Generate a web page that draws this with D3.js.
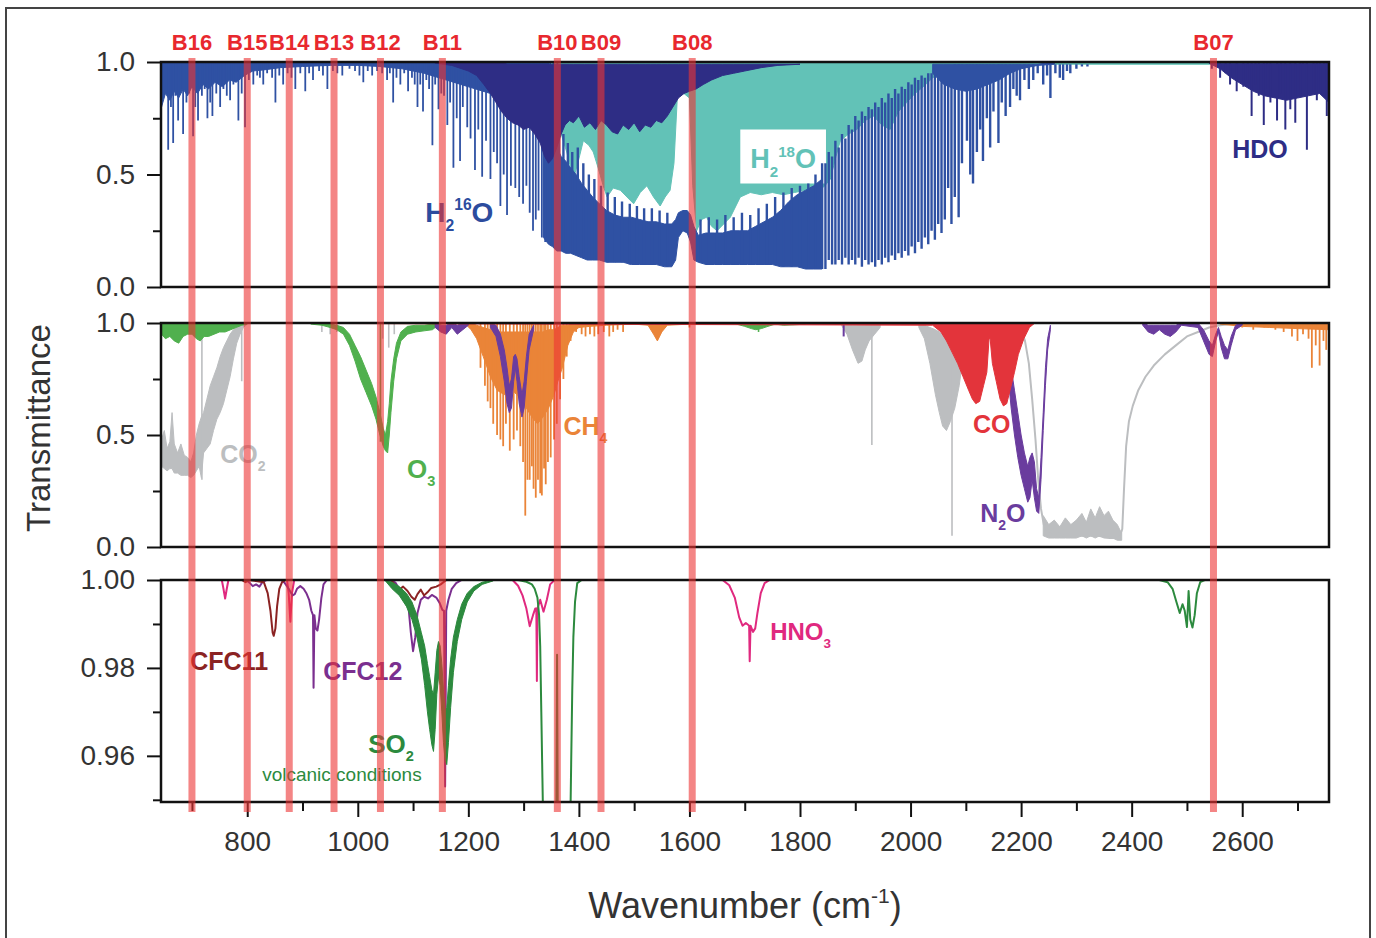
<!DOCTYPE html>
<html>
<head>
<meta charset="utf-8">
<title>Transmittance spectra and bands</title>
<script src="https://d3js.org/d3.v7.min.js"></script>
<style>
  body { margin: 0; background: #fff; }
  svg { display: block; }
  text { font-family: "Liberation Sans", Arial, sans-serif; }
</style>
</head>
<body>
<svg id="chart" width="1376" height="938"></svg>
<script>
// ---------- data (wavenumber cm-1, transmittance) ----------
var bandNames = ['B16','B15','B14','B13','B12','B11','B10','B09','B08','B07'];
var bandWn    = [700, 800, 876, 957, 1041, 1153, 1361, 1440, 1605, 2548];

var xMajor = [800,1000,1200,1400,1600,1800,2000,2200,2400,2600];
var xMinor = [700,900,1100,1300,1500,1700,1900,2100,2300,2500,2700];

// panel 1 : water isotopologues
// band = [wn, upper, lower] ; lines = [wn, min] ; segs = [wn, top, bottom]
var h2o18Band = [[645,1,.99],[1000,1,.99],[1300,1,.985],[1350,1,.96],[1362,1,.80],[1368,1,.68],[1378,1,.60],[1390,1,.48],[1398,1,.55],[1408,1,.65],[1418,1,.63],[1426,1,.60],[1436,1,.52],[1444,1,.45],[1451,1,.40],[1462,1,.44],[1475,1,.43],[1487,1,.40],[1499,1,.37],[1511,1,.42],[1523,1,.45],[1535,1,.40],[1547,1,.36],[1556,1,.40],[1565,1,.43],[1572,1,.55],[1578,1,.84],[1590,1,.86],[1600,1,.84],[1606,1,.45],[1613,1,.25],[1622,1,.30],[1631,1,.31],[1640,1,.27],[1650,1,.25],[1662,1,.28],[1674,1,.31],[1684,1,.36],[1692,1,.40],[1710,1,.42],[1730,1,.41],[1750,1,.42],[1770,1,.41],[1790,1,.42],[1810,1,.43],[1830,1,.42],[1845,1,.45],[1855,1,.48],[1865,1,.58],[1873,1,.65],[1888,1,.68],[1903,1,.70],[1918,1,.74],[1933,1,.76],[1948,1,.72],[1963,1,.70],[1978,1,.78],[1993,1,.82],[2008,1,.86],[2023,1,.89],[2040,1,.93],[2054,1,.95],[2072,1,.96],[2100,1,.975],[2200,1,.99],[2757,1,.99]];

var h2o16TopBand = [[645,1,.80],[652,1,.86],[660,1,.83],[668,1,.87],[676,1,.84],[684,1,.88],[692,1,.85],[700,1,.89],[710,1,.86],[720,1,.90],[730,1,.88],[742,1,.91],[755,1,.89],[768,1,.92],[780,1,.91],[795,1,.94],[810,1,.96],[830,1,.965],[860,1,.975],[900,1,.98],[950,1,.985],[1000,1,.985],[1040,1,.98],[1080,1,.97],[1120,1,.95],[1160,1,.92],[1200,1,.89],[1240,1,.86],[1280,1,.82],[1320,1,.78],[1345,1,.72]];

var h2o16Lines = [[657,.61],[662,.80],[666,.64],[670,.85],[675,.74],[680,.88],[684,.68],[690,.82],[695,.86],[702,.67],[706,.80],[711,.74],[718,.85],[723,.88],[728,.75],[733,.82],[737,.76],[744,.86],[751,.80],[757,.88],[763,.85],[769,.83],[775,.90],[784,.74],[790,.86],[796,.71],[803,.92],[811,.90],[818,.94],[823,.93],[829,.90],[836,.95],[845,.93],[851,.82],[858,.94],[865,.90],[873,.95],[880,.93],[887,.88],[896,.95],[905,.87],[912,.95],[919,.92],[930,.96],[937,.94],[945,.88],[955,.96],[963,.95],[972,.94],[985,.97],[995,.96],[1003,.94],[1010,.91],[1018,.96],[1026,.94],[1035,.96],[1044,.95],[1053,.92],[1058,.95],[1064,.82],[1070,.93],[1077,.90],[1084,.95],[1091,.87],[1098,.93],[1103,.90],[1108,.80],[1113,.90],[1118,.78],[1124,.92],[1129,.88],[1135,.63],[1140,.90],[1146,.79],[1151,.86],[1156,.85],[1162,.72],[1167,.82],[1173,.53],[1179,.75],[1185,.56],[1190,.80],[1198,.71],[1204,.66],[1212,.52],[1218,.70],[1225,.49],[1232,.65],[1240,.48],[1246,.60],[1252,.55],[1258,.36],[1264,.50],[1270,.32],[1277,.45],[1285,.44],[1292,.40],[1299,.37],[1305,.45],[1311,.33],[1317,.25],[1322,.30],[1327,.34],[1333,.22],[1339,.20],[1344,.28],[1348,.30],[1354,.19],[1361,.17]];

var h2o16Band = [[1336,.78,.22],[1345,.70,.19],[1352,.66,.18],[1360,.62,.16],[1368,.58,.16],[1376,.56,.15],[1385,.53,.15],[1395,.50,.14],[1405,.46,.13],[1415,.43,.12],[1425,.40,.12],[1437,.37,.12],[1450,.34,.11],[1465,.32,.11],[1480,.31,.11],[1495,.31,.10],[1510,.30,.10],[1525,.29,.10],[1540,.29,.10],[1555,.28,.09],[1568,.28,.09],[1575,.30,.12],[1580,.33,.22],[1588,.34,.25],[1596,.34,.24],[1602,.32,.20],[1608,.27,.12],[1616,.23,.11],[1630,.24,.10],[1645,.24,.10],[1660,.24,.10],[1675,.25,.10],[1690,.25,.10],[1705,.25,.10],[1720,.27,.10],[1735,.29,.10],[1750,.31,.10],[1765,.34,.09],[1780,.38,.09],[1795,.41,.09],[1810,.43,.08],[1825,.45,.08],[1840,.48,.08]];

var h2o16Segs = [[1340,.95,.22],[1348,.80,.20],[1356,.75,.18],[1364,.70,.16],[1372,.68,.16],[1380,.64,.15],[1388,.60,.15],[1398,.62,.14],[1408,.55,.13],[1418,.50,.12],[1428,.48,.12],[1440,.45,.12],[1452,.42,.11],[1465,.40,.11],[1478,.38,.11],[1492,.37,.10],[1505,.36,.10],[1518,.35,.10],[1532,.35,.10],[1546,.34,.10],[1560,.33,.09],[1620,.30,.11],[1635,.31,.10],[1650,.30,.10],[1665,.32,.10],[1680,.31,.10],[1695,.33,.10],[1710,.32,.10],[1725,.35,.10],[1740,.37,.10],[1755,.40,.10],[1770,.42,.09],[1785,.44,.09],[1800,.45,.09],[1815,.46,.08],[1828,.50,.08],[1840,.55,.08],
  [1846,.55,.08],[1852,.60,.12],[1858,.58,.10],[1864,.65,.10],[1870,.62,.12],[1876,.68,.10],[1882,.66,.13],[1888,.72,.10],[1894,.70,.12],[1900,.76,.10],[1906,.74,.13],[1912,.78,.09],[1918,.76,.12],[1924,.80,.10],[1930,.79,.11],[1936,.82,.09],[1942,.80,.12],[1948,.84,.10],[1954,.82,.13],[1960,.86,.11],[1966,.84,.14],[1972,.88,.12],[1978,.86,.15],[1984,.89,.13],[1990,.88,.16],[1996,.91,.14],[2002,.90,.18],[2008,.93,.15],[2014,.92,.20],[2020,.94,.17],[2026,.93,.22],[2032,.95,.19],[2038,.95,.25],[2044,.96,.21],[2050,.97,.28],[2056,.97,.24],[2062,.98,.30],[2068,.98,.44],[2074,.98,.28],[2080,.99,.40],[2087,.99,.31],[2093,.99,.55],[2102,.99,.65],[2108,.99,.50],[2113,.99,.46],[2120,.99,.60],[2126,.99,.70],[2131,.99,.56],[2138,.99,.75],[2144,.99,.62],[2150,.99,.78],[2159,.99,.64],[2165,.99,.82],[2172,.99,.76],[2180,.99,.80],[2186,.99,.88],[2192,.99,.85],[2198,.99,.83],[2206,.99,.92],[2214,.99,.88],[2222,.99,.92],[2230,.99,.95],[2240,.99,.90],[2247,.99,.94],[2253,.99,.84],[2262,.99,.95],[2270,.99,.93],[2276,.99,.92],[2283,.99,.96],[2289,.99,.95],[2300,.99,.97],[2310,.99,.98],[2320,.99,.98]];

var h2o16RBand = [[2040,.99,.95],[2060,.99,.90],[2080,.99,.88],[2100,.99,.87],[2120,.99,.88],[2140,.99,.90],[2160,.99,.92],[2180,.99,.95],[2200,.99,.97],[2230,.99,.985],[2260,1,.99]];

var hdoBand = [[1140,1,.995],[1170,1,.985],[1200,1,.96],[1215,1,.94],[1228,1,.90],[1240,1,.86],[1250,1,.82],[1260,1,.78],[1270,.99,.75],[1280,.99,.73],[1290,.99,.72],[1300,.99,.70],[1310,.99,.71],[1320,.99,.68],[1330,.99,.64],[1338,.99,.58],[1345,.99,.55],[1352,.99,.57],[1360,.99,.62],[1368,.99,.68],[1375,.99,.72],[1383,.99,.74],[1390,.99,.73],[1400,.99,.76],[1410,.99,.71],[1420,.99,.73],[1430,.99,.70],[1440,.99,.74],[1450,.99,.72],[1460,.99,.69],[1470,.99,.68],[1480,.99,.72],[1490,.99,.70],[1500,.99,.73],[1510,.99,.69],[1520,.99,.72],[1530,.99,.71],[1540,.99,.74],[1550,.99,.73],[1560,.99,.76],[1570,.99,.80],[1580,.99,.84],[1590,.99,.86],[1600,.99,.87],[1612,.99,.88],[1625,.99,.90],[1640,.99,.92],[1660,.99,.94],[1680,.99,.95],[1700,.99,.96],[1730,.99,.975],[1760,.99,.985],[1800,.99,.99]];
var hdoBand2 = [[2540,1,.995],[2560,.995,.97],[2580,.995,.93],[2600,.995,.90],[2620,.995,.87],[2640,.995,.85],[2660,.995,.84],[2680,.995,.83],[2700,.995,.84],[2720,.995,.85],[2740,.995,.86],[2757,.995,.82]];
var hdoLines = [[2545,.97],[2560,.93],[2570,.95],[2578,.90],[2590,.87],[2602,.89],[2610,.92],[2617,.76],[2624,.90],[2630,.85],[2639,.72],[2645,.88],[2651,.82],[2663,.74],[2670,.86],[2678,.70],[2687,.79],[2696,.73],[2705,.85],[2710,.88],[2717,.61],[2729,.87],[2735,.83],[2741,.86],[2748,.85],[2753,.76]];

// panel 2 : trace gases
var co2Bands = [
  [[645,.48,.36],[650,.52,.35],[655,.44,.34],[660,.47,.35],[664,.60,.35],[668,.46,.33],[674,.42,.33],[680,.46,.32],[686,.41,.32],[692,.40,.32],[698,.38,.31],[703,.42,.32],[708,.50,.34],[713,.55,.36],[717,.58,.31],[721,.60,.42],[727,.66,.44],[733,.72,.46],[739,.76,.52],[745,.80,.57],[751,.85,.60],[757,.89,.64],[763,.92,.70],[769,.95,.76],[775,.97,.84],[781,.98,.91],[787,.99,.95],[793,.995,.98],[800,1,.995]],
  [[1875,1,.99],[1885,1,.95],[1895,.99,.88],[1905,.99,.82],[1912,.99,.83],[1918,.99,.88],[1925,1,.92],[1935,1,.95],[1945,1,.98]],
  [[2015,1,.98],[2025,.99,.93],[2035,.98,.82],[2045,.97,.68],[2052,.96,.60],[2058,.95,.54],[2065,.95,.52],[2072,.96,.56],[2080,.97,.62],[2088,.98,.72],[2095,.99,.85],[2105,1,.95],[2115,1,.99]],
  [[2240,.14,.05],[2250,.10,.04],[2260,.12,.04],[2270,.09,.04],[2280,.13,.04],[2290,.10,.04],[2300,.12,.04],[2310,.15,.05],[2318,.11,.04],[2326,.17,.05],[2334,.13,.04],[2342,.18,.05],[2350,.14,.04],[2358,.16,.04],[2366,.12,.04],[2374,.10,.03],[2382,.06,.03]]
];
var co2Lines = [[718,.30],[790,.74],[935,.96],[950,.95],[962,.96],[1045,.93],[1056,.89],[1066,.95],[1930,.455],[2075,.05]];
var co2Trace = [[2190,.995],[2200,.97],[2207,.92],[2214,.82],[2220,.66],[2226,.48],[2231,.30],[2236,.17],[2241,.10],[2250,.07],[2265,.06],[2280,.05],[2300,.05],[2320,.05],[2340,.05],[2360,.04],[2378,.04],[2383,.08],[2386,.25],[2390,.45],[2395,.56],[2402,.63],[2412,.70],[2425,.76],[2440,.81],[2460,.86],[2480,.90],[2500,.94],[2520,.96],[2540,.98],[2560,.99],[2580,.995]];

var o3Bands = [
  [[645,1,.95],[652,1,.93],[660,1,.94],[668,1,.92],[676,1,.91],[684,1,.94],[692,1,.95],[700,1,.95],[708,1,.93],[715,1,.92],[722,1,.94],[730,1,.94],[740,1,.95],[750,1,.96],[760,1,.96],[770,1,.97],[780,1,.98],[790,1,.99],[800,1,.995]],
  [[915,1,.995],[935,1,.99],[950,.995,.98],[962,.99,.97],[974,.98,.95],[985,.95,.90],[995,.90,.83],[1005,.85,.75],[1015,.79,.69],[1025,.73,.63],[1033,.67,.57],[1040,.60,.50],[1046,.53,.45],[1050,.50,.43],[1054,.56,.42],[1057,.64,.50],[1060,.74,.60],[1065,.84,.74],[1070,.91,.84],[1078,.96,.92],[1090,.985,.95],[1105,.99,.96],[1120,.99,.965],[1135,.995,.97],[1145,1,.99],[1155,1,1]],
  [[1685,1,.995],[1700,1,.985],[1712,1,.975],[1720,1,.97],[1730,1,.975],[1742,1,.985],[1755,1,.995],[1770,1,.99],[1790,1,.992],[1810,1,.995]]
];
var o3Lines = [[1041,.47],[1725,.96]];

var ch4Bands = [
  [[1195,1,.995],[1205,1,.97],[1215,.99,.93],[1227,.98,.85],[1240,.97,.76],[1252,.96,.70],[1265,.96,.68],[1280,.96,.70],[1295,.96,.66],[1305,.96,.62],[1315,.96,.58],[1325,.96,.55],[1335,.96,.58],[1345,.97,.62],[1355,.97,.68],[1362,.98,.74],[1370,.99,.80],[1380,.99,.90],[1390,1,.96],[1400,1,.98],[1420,1,.985],[1450,1,.99],[1500,1,.995],[1525,1,.99],[1535,1,.95],[1542,1,.92],[1550,1,.96],[1560,1,.99],[1600,1,.995],[1650,1,.998]],
  [[2560,1,.995],[2600,1,.985],[2650,1,.98],[2700,1,.975],[2757,1,.97]]
];
var ch4Lines = [[1222,.80],[1230,.72],[1235,.65],[1240,.62],[1245,.55],[1252,.50],[1258,.48],[1263,.45],[1268,.55],[1275,.43],[1282,.48],[1288,.52],[1294,.45],[1299,.38],[1303,.14],[1307,.30],[1311,.30],[1315,.36],[1318,.26],[1322,.22],[1326,.30],[1330,.24],[1333,.23],[1337,.35],[1340,.28],[1344,.38],[1349,.40],[1355,.48],[1360,.55],[1366,.66],[1372,.75],[1378,.85],[1385,.92],[1395,.96],[1405,.95],[1412,.94],[1420,.95],[1428,.94],[1435,.95],[1445,.96],[1455,.94],[1462,.96],[1470,.97],[1480,.96],[1600,.98],[2600,.98],[2620,.97],[2640,.98],[2660,.97],[2675,.96],[2690,.94],[2700,.92],[2710,.95],[2720,.93],[2726,.80],[2733,.90],[2740,.81],[2747,.92],[2752,.88]];

var n2oBands = [
  [[1140,1,.98],[1150,.99,.96],[1160,.99,.95],[1170,1,.98],[1180,.99,.95],[1190,1,.97],[1200,1,.99]],
  [[1240,1,.98],[1250,.99,.94],[1258,.95,.85],[1265,.88,.74],[1270,.80,.64],[1274,.72,.60],[1278,.75,.62],[1282,.85,.74],[1285,.86,.80],[1288,.84,.74],[1292,.76,.64],[1297,.68,.58],[1301,.74,.62],[1305,.85,.74],[1310,.95,.88],[1318,.99,.97]],
  [[2170,.99,.95],[2176,.90,.78],[2182,.80,.62],[2188,.70,.50],[2194,.60,.40],[2200,.50,.32],[2206,.42,.26],[2212,.36,.20],[2216,.40,.22],[2220,.42,.30],[2224,.38,.22],[2228,.26,.16],[2232,.22,.15],[2236,.40,.30],[2240,.60,.52],[2244,.80,.72],[2248,.93,.88],[2253,.99,.97]],
  [[2420,1,.99],[2430,.99,.96],[2440,.99,.95],[2450,.99,.97],[2460,.99,.95],[2470,.99,.94],[2480,.99,.96],[2490,1,.99],[2520,1,.98],[2530,.97,.92],[2540,.92,.86],[2546,.90,.85],[2552,.95,.92],[2557,.98,.96],[2562,.94,.89],[2568,.90,.84],[2574,.88,.84],[2580,.94,.90],[2588,.99,.97],[2600,1,.99]]
];
var n2oLines = [[1879,.94]];

var coBand = [[645,1,1],[2040,1,.99],[2055,1,.96],[2065,1,.92],[2075,1,.87],[2085,1,.82],[2095,1,.76],[2105,1,.70],[2112,1,.66],[2118,1,.64],[2125,1,.65],[2132,1,.72],[2138,1,.78],[2142,1,.93],[2144,1,.93],[2148,1,.82],[2155,1,.74],[2162,1,.66],[2168,1,.63],[2174,1,.64],[2180,1,.70],[2188,1,.78],[2195,1,.86],[2205,1,.93],[2215,1,.98],[2225,1,1],[2757,1,1]];

// panel 3 : weak absorbers
var cfc11 = [[645,1],[790,1],[797,.9995],[803,1],[830,.9995],[837,.997],[842,.993],[846,.988],[848,.9873],[851,.989],[854,.994],[858,.998],[863,.9995],[870,1],[1060,1],[1068,.9988],[1075,.9978],[1082,.9985],[1090,.9975],[1097,.9962],[1103,.9955],[1108,.9968],[1114,.9978],[1120,.9965],[1126,.9972],[1133,.9982],[1142,.9985],[1150,.999],[1160,1],[2757,1]];
var cfc12 = [[645,1],[798,1],[804,.9994],[810,.9986],[816,.999],[822,.9985],[828,.9996],[835,1],[862,1],[868,.9993],[875,.998],[882,.9965],[886,.9968],[890,.998],[896,.9986],[902,.998],[907,.997],[912,.9955],[916,.993],[919,.992],[920,.9755],[921.5,.992],[924,.989],[927,.9885],[930,.991],[934,.9958],[938,.999],[944,1],[1060,1],[1068,.9994],[1076,.9978],[1082,.996],[1088,.9945],[1092,.9935],[1096,.988],[1100,.9838],[1104,.987],[1108,.9925],[1114,.9955],[1120,.9962],[1127,.9958],[1134,.9966],[1142,.996],[1148,.9948],[1153,.9932],[1156,.993],[1158,.953],[1160,.993],[1164,.9955],[1170,.998],[1178,.9993],[1188,1],[2757,1]];
var hno3 = [[645,1],[754,1],[757,.998],[760,.9958],[763,.998],[766,1],[872,1],[875,.997],[878,.9905],[881,.997],[885,1],[1280,1],[1290,.9987],[1298,.9965],[1305,.9935],[1311,.9895],[1317,.992],[1321,.9935],[1323,.9935],[1324,.977],[1325,.9935],[1330,.9955],[1336,.9928],[1342,.9955],[1348,.999],[1356,1],[1660,1],[1672,.9988],[1682,.996],[1690,.9915],[1696,.9896],[1702,.9902],[1706,.9898],[1708,.9896],[1709,.9815],[1710.5,.9896],[1715,.9882],[1719,.989],[1723,.9925],[1729,.997],[1736,.9993],[1745,1],[2757,1]];
var so2 = [[645,1],[1290,1],[1305,.9996],[1315,.999],[1320,.998],[1325,.996],[1328,.992],[1330,.985],[1332,.97],[1334,.955],[1336,.94],[1359,.94],[1360.5,.983],[1362,.94],[1384,.94],[1386,.958],[1388,.975],[1390,.987],[1393,.995],[1397,.9993],[1405,1],[2450,1],[2465,.9995],[2474,.998],[2481,.995],[2487,.9925],[2492,.9945],[2496,.993],[2500,.9893],[2503,.9975],[2506,.991],[2510,.9892],[2514,.992],[2518,.997],[2524,.9995],[2532,1],[2757,1]];
var so2Band = [[1050,1,.9998],[1062,.9995,.998],[1075,.9985,.9965],[1088,.997,.994],[1098,.995,.991],[1107,.992,.987],[1115,.988,.982],[1121,.985,.976],[1126,.981,.970],[1130,.978,.966],[1134,.975,.9625],[1137,.974,.961],[1140,.979,.966],[1143,.984,.974],[1146,.986,.978],[1149,.985,.976],[1152,.981,.970],[1155,.975,.963],[1158,.970,.959],[1161,.971,.958],[1164,.976,.963],[1168,.982,.971],[1173,.987,.979],[1180,.991,.986],[1188,.9945,.991],[1198,.997,.995],[1210,.9985,.9975],[1225,.9995,.999],[1245,1,.9998]];

// ---------- layout ----------
var FONT = '"Liberation Sans", Arial, sans-serif';
var svg = d3.select('#chart');
svg.append('rect').attr('width', 1376).attr('height', 938).attr('fill', '#fff');

var x = d3.scaleLinear().domain([644, 2757]).range([161, 1329]);

var panels = [
  {top: 62,  bottom: 287, domain: [0, 1], major: [0, .5, 1], minor: [.25, .75], fmt: '.1f'},
  {top: 323, bottom: 547, domain: [0, 1], major: [0, .5, 1], minor: [.25, .75], fmt: '.1f'},
  {top: 580, bottom: 802, domain: [0.9495, 1], major: [.96, .98, 1], minor: [.95, .97, .99], fmt: '.2f'}
];
panels.forEach(function(p) { p.y = d3.scaleLinear().domain(p.domain).range([p.bottom, p.top]); });

var defs = svg.append('defs');
panels.forEach(function(p, i) {
  defs.append('clipPath').attr('id', 'clip' + i).append('rect')
    .attr('x', x.range()[0]).attr('y', p.top - 1)
    .attr('width', x.range()[1] - x.range()[0]).attr('height', p.bottom - p.top + 1);
  p.g = svg.append('g').attr('clip-path', 'url(#clip' + i + ')');
});

function band(g, y, data, color) {
  g.append('path').datum(data)
    .attr('d', d3.area().x(function(d) { return x(d[0]); })
      .y0(function(d) { return y(d[2]); }).y1(function(d) { return y(d[1]); }))
    .attr('fill', color).attr('stroke', color).attr('stroke-width', 1);
}
function dips(g, y, data, color, w) {
  g.selectAll(null).data(data).join('line')
    .attr('x1', function(d) { return x(d[0]); }).attr('x2', function(d) { return x(d[0]); })
    .attr('y1', function(d) { return y(d.length > 2 ? d[1] : 1); })
    .attr('y2', function(d) { return y(d[d.length - 1]); })
    .attr('stroke', color).attr('stroke-width', w);
}
function trace(g, y, data, color, w) {
  g.append('path').datum(data)
    .attr('d', d3.line().x(function(d) { return x(d[0]); }).y(function(d) { return y(d[1]); }))
    .attr('fill', 'none').attr('stroke', color).attr('stroke-width', w)
    .attr('stroke-linejoin', 'round');
}
// label with sub/superscripts, anchored in data coords
function chem(g, y, wn, t, parts, color, size, weight) {
  var txt = g.append('text').attr('x', x(wn)).attr('y', y(t)).attr('fill', color)
    .attr('font-family', FONT).attr('font-size', size).attr('font-weight', weight || 'bold');
  var shift = 0;
  parts.forEach(function(pt) {
    var s = typeof pt === 'string' ? pt : pt[0];
    var kind = typeof pt === 'string' ? null : pt[1];
    var target = kind === 'sub' ? size * 0.32 : kind === 'sup' ? -size * 0.42 : 0;
    var ts = txt.append('tspan').attr('dy', target - shift).text(s);
    if (kind) ts.attr('font-size', size * 0.56);
    shift = target;
  });
}

// ---------- panel 1 ----------
var p1 = panels[0], g1 = p1.g, y1 = p1.y;
var C_BLUE = '#2f51a3', C_NAVY = '#2e2d85', C_CYAN = '#62c2b7';
band(g1, y1, h2o18Band, C_CYAN);
g1.append('rect').attr('x', x(1692)).attr('y', y1(.70))
  .attr('width', x(1847) - x(1692)).attr('height', y1(.46) - y1(.70)).attr('fill', '#fff');
band(g1, y1, h2o16TopBand, C_BLUE);
dips(g1, y1, h2o16Lines, C_BLUE, 1.8);
band(g1, y1, h2o16Band, C_BLUE);
dips(g1, y1, h2o16Segs, C_BLUE, 2.4);
band(g1, y1, h2o16RBand, C_BLUE);
band(g1, y1, hdoBand, C_NAVY);
band(g1, y1, hdoBand2, C_NAVY);
dips(g1, y1, hdoLines, C_NAVY, 2);
chem(svg, y1, 1122, .289, ['H', ['2', 'sub'], ['16', 'sup'], 'O'], '#2c4c9e', 28);
chem(svg, y1, 1710, .529, ['H', ['2', 'sub'], ['18', 'sup'], 'O'], C_CYAN, 27);
chem(svg, y1, 2582, .573, ['HDO'], C_NAVY, 25);

// ---------- panel 2 ----------
var p2 = panels[1], g2 = p2.g, y2 = p2.y;
var C_GRAY = '#bcbec0', C_GREEN = '#50b04e', C_ORANGE = '#ea8438', C_PURPLE = '#6a3c9e', C_RED = '#e3343b';
co2Bands.forEach(function(b) { band(g2, y2, b, C_GRAY); });
dips(g2, y2, co2Lines, C_GRAY, 1.6);
trace(g2, y2, co2Trace, C_GRAY, 2);
o3Bands.forEach(function(b) { band(g2, y2, b, C_GREEN); });
dips(g2, y2, o3Lines, C_GREEN, 1.6);
ch4Bands.forEach(function(b) { band(g2, y2, b, C_ORANGE); });
dips(g2, y2, ch4Lines, C_ORANGE, 1.8);
n2oBands.forEach(function(b) { band(g2, y2, b, C_PURPLE); });
dips(g2, y2, n2oLines, C_PURPLE, 2);
band(g2, y2, coBand, C_RED);
chem(svg, y2, 751, .375, ['CO', ['2', 'sub']], C_GRAY, 25);
chem(svg, y2, 1089, .308, ['O', ['3', 'sub']], C_GREEN, 26);
chem(svg, y2, 1372, .50, ['CH', ['4', 'sub']], C_ORANGE, 25);
chem(svg, y2, 2113, .509, ['CO'], C_RED, 25);
chem(svg, y2, 2126, .112, ['N', ['2', 'sub'], 'O'], C_PURPLE, 25);

// ---------- panel 3 ----------
var p3 = panels[2], g3 = p3.g, y3 = p3.y;
var C_HNO3 = '#e0297f', C_CFC11 = '#8b2323', C_CFC12 = '#7b2f8f', C_SO2 = '#2c8a3e';
trace(g3, y3, hno3, C_HNO3, 2);
trace(g3, y3, cfc12, C_CFC12, 2);
trace(g3, y3, cfc11, C_CFC11, 2);
band(g3, y3, so2Band, C_SO2);
trace(g3, y3, so2, C_SO2, 2);
chem(svg, y3, 697, .97955, ['CFC11'], C_CFC11, 25);
chem(svg, y3, 937.5, .97727, ['CFC12'], C_CFC12, 25);
chem(svg, y3, 1019, .96068, ['SO', ['2', 'sub']], C_SO2, 26);
chem(svg, y3, 827, .95432, ['volcanic conditions'], C_SO2, 19, 'normal');
chem(svg, y3, 1746, .98636, ['HNO', ['3', 'sub']], C_HNO3, 24);

// ---------- frames and axes ----------
function styleAxis(sel) {
  sel.select('.domain').remove();
  sel.attr('font-family', FONT).attr('font-size', 28);
  sel.selectAll('line').attr('stroke', '#111').attr('stroke-width', 2);
  sel.selectAll('text').attr('fill', '#333');
}
panels.forEach(function(p) {
  svg.append('rect').attr('x', x.range()[0]).attr('y', p.top)
    .attr('width', x.range()[1] - x.range()[0]).attr('height', p.bottom - p.top)
    .attr('fill', 'none').attr('stroke', '#111').attr('stroke-width', 2.5);
  svg.append('g').attr('transform', 'translate(' + x.range()[0] + ',0)')
    .call(d3.axisLeft(p.y).tickValues(p.major).tickSize(14).tickPadding(12).tickFormat(d3.format(p.fmt)))
    .call(styleAxis);
  svg.append('g').attr('transform', 'translate(' + x.range()[0] + ',0)')
    .call(d3.axisLeft(p.y).tickValues(p.minor).tickSize(8).tickFormat(''))
    .call(styleAxis);
});
svg.append('g').attr('transform', 'translate(0,' + p3.bottom + ')')
  .call(d3.axisBottom(x).tickValues(xMajor).tickSize(15).tickPadding(14).tickFormat(d3.format('d')))
  .call(styleAxis);
svg.append('g').attr('transform', 'translate(0,' + p3.bottom + ')')
  .call(d3.axisBottom(x).tickValues(xMinor).tickSize(9).tickFormat(''))
  .call(styleAxis);

// instrument bands
svg.append('g').selectAll('rect').data(bandWn).join('rect')
  .attr('x', function(d) { return x(d) - 3.5; }).attr('y', 58)
  .attr('width', 7).attr('height', 754)
  .attr('fill', 'rgba(236,52,52,0.6)');
svg.append('g').selectAll('text').data(bandWn).join('text')
  .attr('x', function(d) { return x(d); }).attr('y', 50)
  .attr('text-anchor', 'middle').attr('font-family', FONT)
  .attr('font-size', 22).attr('font-weight', 'bold').attr('fill', '#e8282e')
  .text(function(d, i) { return bandNames[i]; });

// axis titles
svg.append('text').attr('transform', 'translate(50,428) rotate(-90)')
  .attr('text-anchor', 'middle').attr('font-family', FONT).attr('font-size', 33)
  .attr('fill', '#333').text('Transmittance');
var xt = svg.append('text').attr('x', 745).attr('y', 918).attr('text-anchor', 'middle')
  .attr('font-family', FONT).attr('font-size', 36).attr('fill', '#333');
xt.append('tspan').text('Wavenumber (cm');
xt.append('tspan').attr('dy', -15).attr('font-size', 21).text('-1');
xt.append('tspan').attr('dy', 15).text(')');

// outer frame
svg.append('rect').attr('x', 6).attr('y', 8).attr('width', 1364).attr('height', 945)
  .attr('fill', 'none').attr('stroke', '#444').attr('stroke-width', 2);
</script>
</body>
</html>
